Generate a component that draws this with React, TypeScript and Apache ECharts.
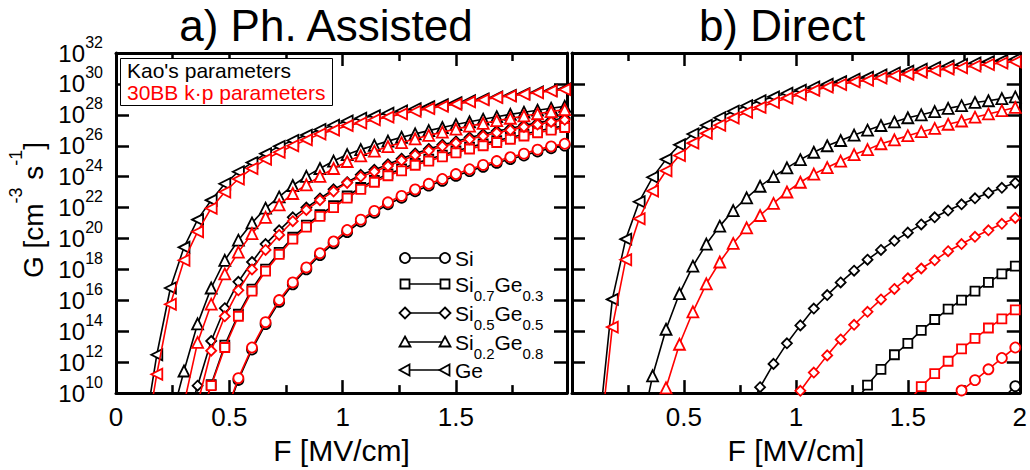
import React, { useEffect, useRef } from "react";
import * as echarts from "echarts";

const FONT = '"Liberation Sans", Arial, Helvetica, sans-serif';
const BLACK = "#000000";
const RED = "#ff0000";

// Electric field grid F [MV/cm]
const field = [
  0.0, 0.06, 0.12, 0.18, 0.24, 0.3, 0.36, 0.42, 0.48, 0.54, 0.6, 0.66, 0.72,
  0.78, 0.84, 0.9, 0.96, 1.02, 1.08, 1.14, 1.2, 1.26, 1.32, 1.38, 1.44, 1.5,
  1.56, 1.62, 1.68, 1.74, 1.8, 1.86, 1.92, 1.98,
];

// log10(G [cm^-3 s^-1]) values, each list starting at field index given by *Start
// ---- a) Phonon assisted ----
const siKaoAStart = 8;
const siKaoA = [8.4, 10.85, 12.82, 14.46, 15.9, 17.04, 18.01, 18.93, 19.69, 20.42, 21.1, 21.67, 22.22, 22.64, 23.06, 23.42, 23.73, 24.05, 24.36, 24.64, 24.89, 25.14, 25.37, 25.63, 25.84, 26.01];
const siKpA = [8.5, 10.97, 12.95, 14.59, 16.02, 17.16, 18.13, 19.05, 19.81, 20.55, 21.22, 21.79, 22.34, 22.76, 23.18, 23.54, 23.85, 24.17, 24.48, 24.76, 25.01, 25.26, 25.49, 25.75, 25.96, 26.13];
const si7KaoAStart = 6;
const si7KaoA = [8.0, 10.55, 13.1, 15.1, 16.72, 18.02, 19.1, 20.08, 20.86, 21.55, 22.12, 22.75, 23.3, 23.76, 24.18, 24.5, 24.86, 25.13, 25.4, 25.66, 25.91, 26.12, 26.33, 26.54, 26.75, 26.96, 27.13, 27.3];
const si7KpA = [7.9, 10.48, 12.95, 14.97, 16.59, 17.89, 18.97, 19.96, 20.74, 21.43, 22.0, 22.61, 23.18, 23.64, 24.06, 24.38, 24.74, 25.01, 25.28, 25.54, 25.79, 26.0, 26.21, 26.42, 26.63, 26.84, 27.01, 27.18];
const si5KaoAStart = 5;
const si5KaoA = [7.5, 10.48, 13.37, 15.49, 17.2, 18.48, 19.64, 20.53, 21.37, 22.0, 22.59, 23.18, 23.64, 24.12, 24.44, 24.8, 25.16, 25.5, 25.79, 26.07, 26.28, 26.53, 26.74, 26.95, 27.12, 27.33, 27.48, 27.65, 27.79];
const si5KpAStart = 6;
const si5KpA = [9.3, 12.74, 14.97, 16.65, 18.0, 19.26, 20.23, 21.12, 21.85, 22.48, 23.05, 23.6, 24.0, 24.32, 24.69, 25.05, 25.39, 25.68, 25.96, 26.17, 26.42, 26.63, 26.84, 27.01, 27.22, 27.37, 27.54, 27.68];
const si2KaoAStart = 4;
const si2KaoA = [8.1, 11.43, 14.48, 16.8, 18.59, 19.89, 21.01, 21.96, 22.69, 23.43, 24.02, 24.53, 25.01, 25.43, 25.75, 26.03, 26.3, 26.55, 26.77, 26.98, 27.18, 27.37, 27.55, 27.72, 27.88, 28.03, 28.17, 28.3, 28.43, 28.55];
const si2KpAStart = 5;
const si2KpA = [9.3, 13.28, 15.75, 17.71, 19.12, 20.32, 21.37, 22.17, 22.91, 23.47, 24.02, 24.53, 24.98, 25.35, 25.65, 25.95, 26.2, 26.45, 26.67, 26.88, 27.08, 27.27, 27.45, 27.62, 27.78, 27.93, 28.07, 28.21, 28.34];
const geKaoAStart = 2;
const geKaoA = [7.0, 12.48, 16.8, 19.43, 21.22, 22.48, 23.54, 24.32, 24.91, 25.49, 25.96, 26.34, 26.69, 27.05, 27.33, 27.6, 27.78, 27.95, 28.1, 28.25, 28.39, 28.53, 28.66, 28.79, 28.91, 29.03, 29.15, 29.26, 29.37, 29.48, 29.58, 29.68];
const geKpA = [6.0, 11.22, 15.75, 18.59, 20.44, 21.96, 23.01, 23.85, 24.53, 25.12, 25.58, 26.0, 26.38, 26.76, 27.01, 27.3, 27.47, 27.68, 27.85, 28.06, 28.23, 28.4, 28.55, 28.69, 28.84, 28.97, 29.12, 29.22, 29.33, 29.43, 29.54, 29.64];

// ---- b) Direct ----
const siKaoBStart = 32;
const siKaoB = [9.6, 10.45];
const siKpBStart = 28;
const siKpB = [9.4, 10.17, 10.84, 11.54, 12.27, 12.95];
const si7KaoBStart = 21;
const si7KaoB = [9.3, 10.52, 11.54, 12.48, 13.22, 14.06, 14.76, 15.43, 16.02, 16.59, 17.16, 17.71, 18.21];
const si7KpBStart = 25;
const si7KpB = [9.4, 10.42, 11.26, 12.06, 12.86, 13.54, 14.21, 14.8, 15.39];
const si5KaoBStart = 13;
const si5KaoB = [8.6, 10.38, 11.89, 13.22, 14.38, 15.47, 16.34, 17.16, 17.92, 18.63, 19.26, 19.85, 20.38, 20.91, 21.37, 21.81, 22.21, 22.6, 22.95, 23.28, 23.6];
const si5KpBStart = 16;
const si5KpB = [8.9, 10.15, 11.33, 12.44, 13.47, 14.42, 15.26, 16.06, 16.74, 17.43, 18.06, 18.59, 19.18, 19.64, 20.11, 20.53, 20.95, 21.33];
const si2KaoBStart = 5;
const si2KaoB = [7.0, 11.12, 14.13, 16.44, 18.21, 19.64, 20.8, 21.81, 22.63, 23.38, 24.0, 24.57, 25.1, 25.58, 26.0, 26.34, 26.69, 27.01, 27.31, 27.54, 27.81, 28.0, 28.21, 28.42, 28.59, 28.8, 28.91, 29.05, 29.16];
const si2KpBStart = 6;
const si2KpB = [7.0, 10.34, 13.16, 15.26, 17.07, 18.48, 19.68, 20.69, 21.49, 22.27, 23.01, 23.64, 24.17, 24.59, 25.01, 25.43, 25.75, 26.13, 26.38, 26.65, 26.91, 27.12, 27.39, 27.6, 27.85, 28.06, 28.27, 28.48];
const geKaoBStart = 2;
const geKaoB = [7.6, 16.06, 19.96, 22.38, 23.96, 25.12, 26.06, 26.76, 27.33, 27.81, 28.23, 28.59, 28.91, 29.16, 29.4, 29.6, 29.8, 29.98, 30.15, 30.3, 30.44, 30.58, 30.71, 30.83, 30.95, 31.06, 31.16, 31.26, 31.35, 31.44, 31.52, 31.6];
const geKpB = [6.2, 14.27, 18.63, 21.28, 23.07, 24.38, 25.37, 26.17, 26.8, 27.33, 27.79, 28.17, 28.48, 28.8, 29.08, 29.32, 29.58, 29.79, 29.96, 30.13, 30.23, 30.38, 30.53, 30.63, 30.76, 30.86, 30.97, 31.05, 31.16, 31.26, 31.35, 31.43];

const materials = ["Si", "Si0.7Ge0.3", "Si0.5Ge0.5", "Si0.2Ge0.8", "Ge"];
const legendRich = [
  "{b|Si}",
  "{b|Si}{u|0.7}{b|Ge}{u|0.3}",
  "{b|Si}{u|0.5}{b|Ge}{u|0.5}",
  "{b|Si}{u|0.2}{b|Ge}{u|0.8}",
  "{b|Ge}",
];
const symbols = ["circle", "rect", "diamond", "triangle", "triangle"];
const rotations = [0, 0, 0, 0, 90];
const modelNames = ["Kao's parameters", "30BB k\u00b7p parameters"];
const panelTitles = ["a) Ph. Assisted", "b) Direct"];
const yTickExponents = [10, 32];

const toPoints = (start: number, logs: number[]) =>
  logs.map((v, j) => [field[start + j], Math.pow(10, v)]);

const seriesTable: [number, number, number, number, number[]][] = [
  // panel, material, model(0 Kao,1 kp), start, data
  [0, 0, 0, siKaoAStart, siKaoA],
  [0, 1, 0, si7KaoAStart, si7KaoA],
  [0, 2, 0, si5KaoAStart, si5KaoA],
  [0, 3, 0, si2KaoAStart, si2KaoA],
  [0, 4, 0, geKaoAStart, geKaoA],
  [0, 0, 1, siKaoAStart, siKpA],
  [0, 1, 1, si7KaoAStart, si7KpA],
  [0, 2, 1, si5KpAStart, si5KpA],
  [0, 3, 1, si2KpAStart, si2KpA],
  [0, 4, 1, geKaoAStart, geKpA],
  [1, 0, 0, siKaoBStart, siKaoB],
  [1, 1, 0, si7KaoBStart, si7KaoB],
  [1, 2, 0, si5KaoBStart, si5KaoB],
  [1, 3, 0, si2KaoBStart, si2KaoB],
  [1, 4, 0, geKaoBStart, geKaoB],
  [1, 0, 1, siKpBStart, siKpB],
  [1, 1, 1, si7KpBStart, si7KpB],
  [1, 2, 1, si5KpBStart, si5KpB],
  [1, 3, 1, si2KpBStart, si2KpB],
  [1, 4, 1, geKaoBStart, geKpB],
];

export default function App() {
  const ref = useRef<HTMLDivElement>(null);
  useEffect(() => {
    document.body.style.margin = "0";
    const chart = echarts.init(ref.current!, null, { renderer: "svg" });

    const frameLine = { show: true, onZero: false, lineStyle: { color: BLACK, width: 3 } };
    const xTick = { show: true, inside: true, length: 13, lineStyle: { color: BLACK, width: 2.5 } };
    const xMinor = { show: true, splitNumber: 2, length: 8, lineStyle: { color: BLACK, width: 2.5 } };
    const yTick = { show: true, inside: true, length: 13, lineStyle: { color: BLACK, width: 2.5 } };
    const xMax = [1.99, 2];
    const yMin = Math.pow(10, yTickExponents[0]);
    const yMax = Math.pow(10, yTickExponents[1]);

    const xAxes: any[] = [];
    const yAxes: any[] = [];
    [0, 1].forEach((g) => {
      xAxes.push({
        gridIndex: g,
        type: "value",
        position: "bottom",
        min: 0,
        max: xMax[g],
        interval: 0.5,
        axisLine: frameLine,
        axisTick: xTick,
        minorTick: xMinor,
        splitLine: { show: false },
        axisLabel: {
          fontSize: 26,
          fontFamily: FONT,
          color: BLACK,
          margin: 11,
          showMinLabel: g === 0,
          showMaxLabel: g === 1,
        },
        name: "F [MV/cm]",
        nameLocation: "middle",
        nameGap: 35,
        nameTextStyle: { fontSize: 30, fontFamily: FONT, color: BLACK },
      });
      xAxes.push({
        gridIndex: g,
        type: "value",
        position: "top",
        min: 0,
        max: xMax[g],
        interval: 0.5,
        axisLine: frameLine,
        axisTick: xTick,
        minorTick: xMinor,
        splitLine: { show: false },
        axisLabel: { show: false },
      });
      [0, 1].forEach((side) => {
        const showLabels = g === 0 && side === 0;
        yAxes.push({
          gridIndex: g,
          type: "log",
          logBase: 10,
          position: side === 0 ? "left" : "right",
          min: yMin,
          max: yMax,
          interval: 2,
          splitNumber: 11,
          axisLine: frameLine,
          axisTick: yTick,
          splitLine: { show: false },
          axisLabel: showLabels
            ? {
                show: true,
                showMinLabel: true,
                showMaxLabel: true,
                margin: 31,
                fontSize: 24,
                lineHeight: 24,
                fontFamily: FONT,
                color: BLACK,
                padding: [6, 0, 0, 0],
                verticalAlign: "middle",
                formatter: () => "10",
              }
            : { show: false },
        });
      });
    });
    // exponent overlay for the left axis of panel a
    yAxes.push({
      gridIndex: 0,
      type: "log",
      logBase: 10,
      position: "left",
      offset: 0,
      min: yMin,
      max: yMax,
      interval: 2,
      splitNumber: 11,
      axisLine: { show: false },
      axisTick: { show: false },
      splitLine: { show: false },
      axisLabel: {
        show: true,
        showMinLabel: true,
        showMaxLabel: true,
        margin: 13,
        fontSize: 16,
        lineHeight: 16,
        fontFamily: FONT,
        color: BLACK,
        align: "right",
        verticalAlign: "bottom",
        padding: [0, 0, 3, 0],
        formatter: (v: number) => `${Math.round(Math.log10(v))}`,
      },
    });

    const series = seriesTable.map(([panel, mat, model, start, logs]) => {
      const color = model === 0 ? BLACK : RED;
      return {
        type: "line",
        name: `${materials[mat]} ${modelNames[model]}`,
        xAxisIndex: panel * 2,
        yAxisIndex: panel * 2,
        data: toPoints(start, logs),
        symbol: symbols[mat],
        symbolRotate: rotations[mat],
        symbolSize: mat === 3 || mat === 4 ? 11 : mat === 1 ? 9 : 10,
        showAllSymbol: true,
        clip: true,
        silent: true,
        z: model === 0 ? 2 : 3,
        lineStyle: { color, width: 1.6 },
        itemStyle: { color: "#ffffff", borderColor: color, borderWidth: 1.8 },
      };
    });

    // legend glyphs (drawn as graphics)
    const rowY = [258, 284, 313, 342, 370];
    const lx1 = 405;
    const lx2 = 445;
    const glyph = (kind: number, cx: number, cy: number) => {
      const style = { fill: "#ffffff", stroke: BLACK, lineWidth: 1.8 };
      if (kind === 0) return { type: "circle", shape: { cx, cy, r: 5 }, style };
      if (kind === 1) return { type: "rect", shape: { x: cx - 4.5, y: cy - 4.5, width: 9, height: 9 }, style };
      if (kind === 2)
        return { type: "polygon", shape: { points: [[cx, cy - 5.5], [cx + 5.5, cy], [cx, cy + 5.5], [cx - 5.5, cy]] }, style };
      if (kind === 3)
        return { type: "polygon", shape: { points: [[cx, cy - 5.5], [cx + 5.5, cy + 4.5], [cx - 5.5, cy + 4.5]] }, style };
      return { type: "polygon", shape: { points: [[cx - 5.5, cy], [cx + 4.5, cy - 5.5], [cx + 4.5, cy + 5.5]] }, style };
    };
    const legendEls: any[] = [];
    materials.forEach((m, i) => {
      const y = rowY[i];
      legendEls.push({ type: "line", shape: { x1: lx1, y1: y, x2: lx2, y2: y }, style: { stroke: BLACK, lineWidth: 1.6 } });
      legendEls.push(glyph(i, lx1, y));
      legendEls.push(glyph(i, lx2, y));
      legendEls.push({
        type: "text",
        x: 455,
        y: y + 4,
        style: {
          text: legendRich[i],
          align: "left",
          verticalAlign: "middle",
          rich: {
            b: { fontSize: 21, fontFamily: FONT, fill: BLACK, padding: [0, 0, 8, 0], verticalAlign: "top" },
            u: { fontSize: 15, fontFamily: FONT, fill: BLACK, verticalAlign: "bottom" },
          },
        },
      });
    });

    const graphic: any[] = [
      {
        type: "text",
        x: 326,
        y: 25,
        style: { text: panelTitles[0], font: `44px ${FONT}`, fill: BLACK, align: "center", verticalAlign: "middle" },
      },
      {
        type: "text",
        x: 782,
        y: 25,
        style: { text: panelTitles[1], font: `44px ${FONT}`, fill: BLACK, align: "center", verticalAlign: "middle" },
      },
      {
        type: "text",
        x: 27,
        y: 210,
        rotation: Math.PI / 2,
        style: {
          text: "{b|G [cm}{s|-3}{b| s}{s|-1}{b|]}",
          align: "center",
          verticalAlign: "middle",
          rich: {
            b: { fontSize: 28, fontFamily: FONT, fill: BLACK, padding: [12, 0, 0, 0], verticalAlign: "bottom" },
            s: { fontSize: 18, fontFamily: FONT, fill: BLACK, verticalAlign: "top" },
          },
        },
      },
      {
        type: "rect",
        shape: { x: 120.5, y: 58.5, width: 212, height: 47 },
        style: { fill: "#ffffff", stroke: BLACK, lineWidth: 1 },
        z: 10,
      },
      {
        type: "text",
        x: 127,
        y: 70,
        z: 11,
        style: { text: modelNames[0], font: `21px ${FONT}`, fill: BLACK, align: "left", verticalAlign: "middle" },
      },
      {
        type: "text",
        x: 127,
        y: 92,
        z: 11,
        style: { text: modelNames[1], font: `21px ${FONT}`, fill: RED, align: "left", verticalAlign: "middle" },
      },
      ...legendEls.map((e) => ({ ...e, z: 10 })),
    ];

    chart.setOption({
      animation: false,
      backgroundColor: "#ffffff",
      textStyle: { fontFamily: FONT },
      grid: [
        { left: 116, top: 53, width: 451, height: 350 },
        { left: 572, top: 53, width: 454, height: 350 },
      ],
      xAxis: xAxes,
      yAxis: yAxes,
      series,
      graphic,
    });
    return () => chart.dispose();
  }, []);
  return <div ref={ref} style={{ width: 1030, height: 470 }} />;
}
